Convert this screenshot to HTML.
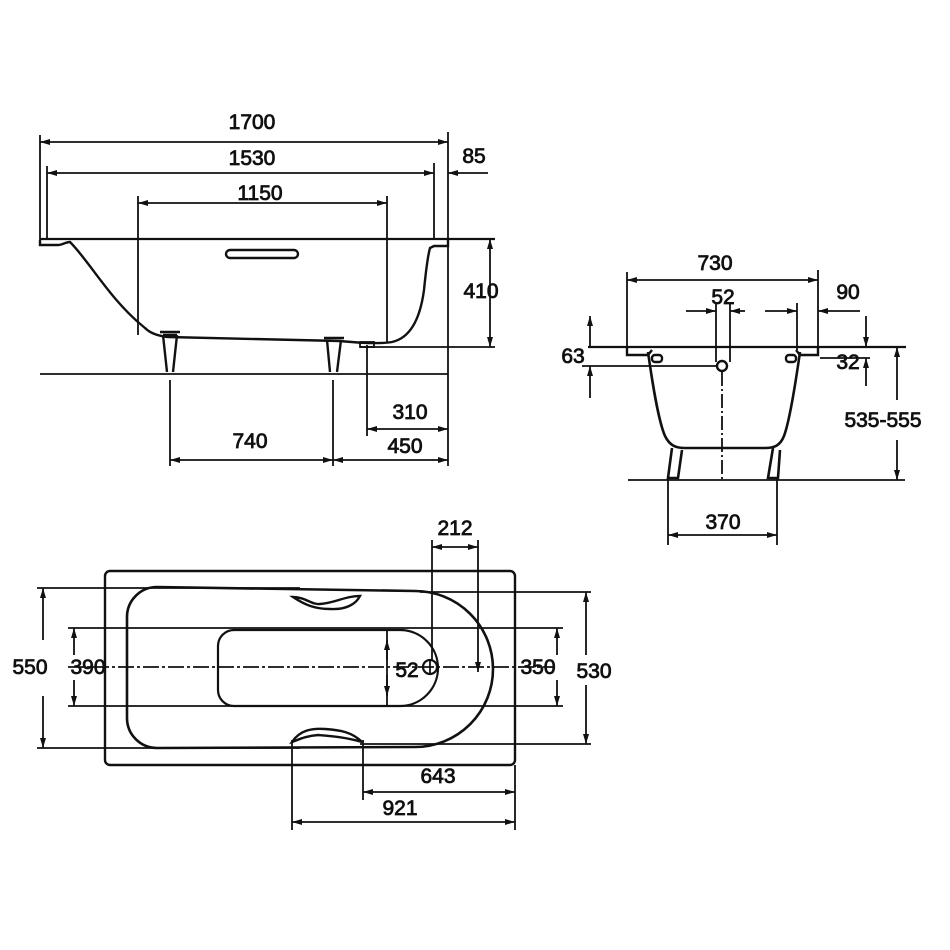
<!DOCTYPE html>
<html><head><style>html,body{margin:0;padding:0;background:#fff}svg{display:block}
text{font-family:"Liberation Sans",Arial,sans-serif;font-size:21px;fill:#111;text-anchor:middle;stroke:#111;stroke-width:0.8}</style></head>
<body>
<svg width="950" height="950" viewBox="0 0 950 950" xmlns="http://www.w3.org/2000/svg">
<defs><marker id="a" markerWidth="10" markerHeight="6" refX="10" refY="3" orient="auto-start-reverse" markerUnits="userSpaceOnUse"><path d="M0,0 L10,3 L0,6 z" fill="#111"/></marker></defs>
<g stroke="#111" fill="none" stroke-width="1.8">
<!-- SIDE VIEW -->
<line x1="40" y1="142" x2="448" y2="142" marker-start="url(#a)" marker-end="url(#a)"/>
<line x1="40" y1="135" x2="40" y2="240"/>
<line x1="448" y1="132" x2="448" y2="466"/>
<line x1="47" y1="173" x2="434" y2="173" marker-start="url(#a)" marker-end="url(#a)"/>
<line x1="47" y1="166" x2="47" y2="240"/>
<line x1="434" y1="163" x2="434" y2="240"/>
<line x1="448" y1="173" x2="488" y2="173" marker-start="url(#a)"/>
<line x1="138" y1="203" x2="387" y2="203" marker-start="url(#a)" marker-end="url(#a)"/>
<line x1="138" y1="196" x2="138" y2="335"/>
<line x1="387" y1="196" x2="387" y2="343"/>
<line x1="40" y1="239" x2="495" y2="239" stroke-width="2.2"/>
<path d="M40,240 L40,245 L58,245 C62,245 66,242 70,242 C90,262 110,300 145,328 C150,333 158,336 168,337 L340,341 C360,343 380,344 392,342 C410,338 420,320 424,290 C426,270 428,255 430,248 L434,246 L448,246 L448,240" stroke-width="2.4"/>
<rect x="226" y="250" width="72" height="8" rx="4" stroke-width="2.4"/>
<line x1="360" y1="347" x2="495" y2="347"/>
<rect x="360" y="342" width="14" height="5"/>
<line x1="490" y1="239" x2="490" y2="347" marker-start="url(#a)" marker-end="url(#a)"/>
<line x1="40" y1="374" x2="448" y2="374"/>
<path d="M160,332 L180,332 M163,335 L167,372 M177,335 L173,372 M163,335 L177,335" stroke-width="2.4"/>
<path d="M324,338 L344,338 M327,340 L330,372 M341,340 L337,372" stroke-width="2.4"/>
<line x1="170" y1="380" x2="170" y2="466"/>
<line x1="333" y1="380" x2="333" y2="466"/>
<line x1="367" y1="345" x2="367" y2="436"/>
<line x1="367" y1="429" x2="448" y2="429" marker-start="url(#a)" marker-end="url(#a)"/>
<line x1="170" y1="460" x2="333" y2="460" marker-start="url(#a)" marker-end="url(#a)"/>
<line x1="333" y1="460" x2="448" y2="460" marker-start="url(#a)" marker-end="url(#a)"/>
<!-- END VIEW -->
<line x1="627" y1="280" x2="818" y2="280" marker-start="url(#a)" marker-end="url(#a)"/>
<line x1="627" y1="272" x2="627" y2="352"/>
<line x1="818" y1="270" x2="818" y2="352"/>
<line x1="686" y1="311" x2="716" y2="311" marker-end="url(#a)"/>
<line x1="730" y1="311" x2="745" y2="311" marker-start="url(#a)"/>
<line x1="765" y1="311" x2="797" y2="311" marker-end="url(#a)"/>
<line x1="818" y1="311" x2="860" y2="311" marker-start="url(#a)"/>
<line x1="716" y1="303" x2="716" y2="362"/>
<line x1="730" y1="303" x2="730" y2="362"/>
<line x1="797" y1="303" x2="797" y2="350"/>
<line x1="588" y1="347" x2="906" y2="347" stroke-width="2.2"/>
<path d="M627,347 L627,355 L648,355 L652,350 M818,347 L818,355 L800,355 L796,350" stroke-width="2.4"/>
<circle cx="722" cy="366" r="5" stroke-width="2.4"/>
<rect x="652" y="355" width="10" height="7" rx="3" stroke-width="2.4"/>
<rect x="786" y="355" width="10" height="7" rx="3" stroke-width="2.4"/>
<line x1="582" y1="366" x2="716" y2="366"/>
<line x1="590" y1="316" x2="590" y2="347" marker-start="url(#a)"/>
<line x1="590" y1="366" x2="590" y2="398" marker-start="url(#a)"/>
<line x1="820" y1="358" x2="870" y2="358"/>
<line x1="866" y1="316" x2="866" y2="347" marker-end="url(#a)"/>
<line x1="866" y1="358" x2="866" y2="386" marker-start="url(#a)"/>
<line x1="897" y1="347" x2="897" y2="400" marker-start="url(#a)"/>
<line x1="897" y1="440" x2="897" y2="480" marker-end="url(#a)"/>
<path d="M648,352 C652,380 658,420 665,436 C670,446 676,448 685,448 L765,448 C774,448 780,446 784,436 C790,420 796,380 800,352" stroke-width="2.6"/>
<path d="M672,448 L668,478 L678,478 L682,450 M773,448 L768,478 L778,478 L780,450" stroke-width="2.6"/>
<line x1="722" y1="372" x2="722" y2="480" stroke-dasharray="14,3,2,3"/>
<line x1="628" y1="480" x2="905" y2="480"/>
<line x1="668" y1="478" x2="668" y2="545"/>
<line x1="777" y1="478" x2="777" y2="545"/>
<line x1="668" y1="535" x2="777" y2="535" marker-start="url(#a)" marker-end="url(#a)"/>
<!-- TOP VIEW -->
<rect x="105" y="571" width="410" height="194" rx="5" stroke-width="2.4"/>
<path d="M157,587 L415,591 A78,78 0 0 1 415,747 L157,748 A30,30 0 0 1 127,718 L127,617 A30,30 0 0 1 157,587 Z" stroke-width="2.6"/>
<path d="M234,630 L400,630 A38,38 0 0 1 400,706 L234,706 A16,16 0 0 1 218,690 L218,646 A16,16 0 0 1 234,630 Z" stroke-width="2.2"/>
<line x1="387" y1="630" x2="387" y2="706"/>
<path d="M293,597 C305,597 312,605 320,604 C335,603 345,596 360,596 C356,604 346,610 330,609 C315,609 305,605 293,597 Z" stroke-width="2.4"/>
<path d="M292,742 C300,730 312,728 325,729 C340,730 352,732 362,742 C345,737 330,736 318,735 C305,736 298,740 292,742 Z" stroke-width="2.4"/>
<line x1="37" y1="588" x2="300" y2="588"/>
<line x1="420" y1="592" x2="591" y2="592"/>
<line x1="37" y1="748" x2="300" y2="748"/>
<line x1="360" y1="744" x2="591" y2="744"/>
<line x1="68" y1="628" x2="563" y2="628"/>
<line x1="68" y1="706" x2="563" y2="706"/>
<line x1="68" y1="667" x2="555" y2="667" stroke-dasharray="16,3,3,3"/>
<line x1="43" y1="588" x2="43" y2="640" marker-start="url(#a)"/>
<line x1="43" y1="696" x2="43" y2="748" marker-end="url(#a)"/>
<line x1="74" y1="628" x2="74" y2="655" marker-start="url(#a)"/>
<line x1="74" y1="680" x2="74" y2="706" marker-end="url(#a)"/>
<line x1="557" y1="628" x2="557" y2="655" marker-start="url(#a)"/>
<line x1="557" y1="680" x2="557" y2="706" marker-end="url(#a)"/>
<line x1="586" y1="592" x2="586" y2="655" marker-start="url(#a)"/>
<line x1="586" y1="685" x2="586" y2="744" marker-end="url(#a)"/>
<line x1="387" y1="640" x2="387" y2="660" marker-start="url(#a)"/>
<line x1="387" y1="675" x2="387" y2="696" marker-end="url(#a)"/>
<circle cx="430" cy="667" r="7" stroke-width="2.2"/>
<line x1="430" y1="660" x2="430" y2="674"/>
<line x1="432" y1="540" x2="432" y2="660"/>
<line x1="478" y1="540" x2="478" y2="672" marker-end="url(#a)"/>
<line x1="432" y1="547" x2="478" y2="547" marker-start="url(#a)" marker-end="url(#a)"/>
<line x1="363" y1="740" x2="363" y2="800"/>
<line x1="292" y1="740" x2="292" y2="830"/>
<line x1="515" y1="765" x2="515" y2="830"/>
<line x1="363" y1="792" x2="515" y2="792" marker-start="url(#a)" marker-end="url(#a)"/>
<line x1="292" y1="822" x2="515" y2="822" marker-start="url(#a)" marker-end="url(#a)"/>
</g>
<text x="252" y="129">1700</text>
<text x="252" y="165">1530</text>
<text x="260" y="200">1150</text>
<text x="474" y="163">85</text>
<text x="481" y="298">410</text>
<text x="410" y="419">310</text>
<text x="250" y="448">740</text>
<text x="405" y="453">450</text>
<text x="715" y="270">730</text>
<text x="723" y="304">52</text>
<text x="848" y="299">90</text>
<text x="573" y="363">63</text>
<text x="848" y="369">32</text>
<text x="883" y="427">535-555</text>
<text x="723" y="529">370</text>
<text x="455" y="535">212</text>
<text x="30" y="674">550</text>
<text x="88" y="674">390</text>
<text x="407" y="677">52</text>
<text x="538" y="674">350</text>
<text x="594" y="678">530</text>
<text x="438" y="783">643</text>
<text x="400" y="815">921</text>
</svg>
</body></html>
